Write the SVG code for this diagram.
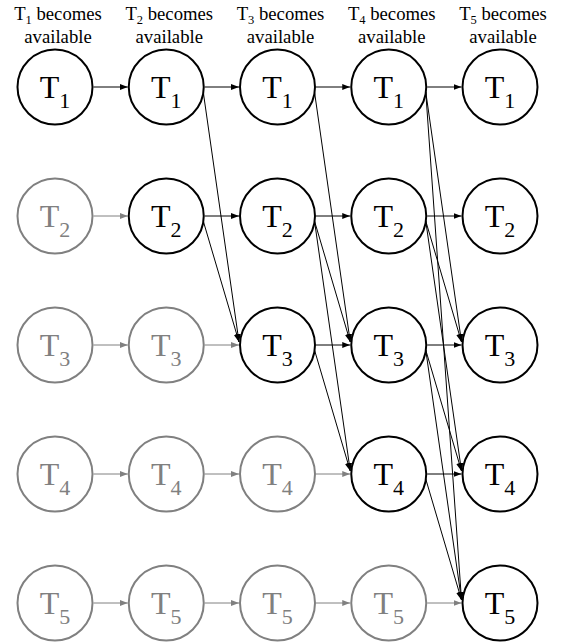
<svg xmlns="http://www.w3.org/2000/svg" width="567" height="642" viewBox="0 0 567 642">
<style>
.hdr{font-family:"Liberation Serif","Times New Roman",serif;font-size:18.7px;text-anchor:middle;fill:#000}
.lbl{font-family:"Liberation Serif","Times New Roman",serif;font-size:32px;text-anchor:middle}
.sub{font-size:22px}
.on circle{fill:#fff;stroke:#000;stroke-width:2}
.on text{fill:#000}
.off circle{fill:#fff;stroke:#808080;stroke-width:2}
.off text{fill:#808080}
.eb{stroke:#000;stroke-width:1;fill:none;marker-end:url(#ab)}
.eg{stroke:#808080;stroke-width:1;fill:none;marker-end:url(#ag)}
</style>
<defs>
<marker id="ab" markerUnits="userSpaceOnUse" markerWidth="8" markerHeight="6" refX="8" refY="3" orient="auto"><path d="M0,0 L8,3 L0,6 z" fill="#000"/></marker>
<marker id="ag" markerUnits="userSpaceOnUse" markerWidth="8" markerHeight="6" refX="8" refY="3" orient="auto"><path d="M0,0 L8,3 L0,6 z" fill="#808080"/></marker>
</defs>
<g id="headers" font-family="Liberation Serif, serif">
<text class="hdr" x="58" y="20">T<tspan font-size="12.5" dy="4">1</tspan><tspan dy="-4"> becomes</tspan></text>
<text class="hdr" x="58" y="43">available</text>
<text class="hdr" x="169.25" y="20">T<tspan font-size="12.5" dy="4">2</tspan><tspan dy="-4"> becomes</tspan></text>
<text class="hdr" x="169.25" y="43">available</text>
<text class="hdr" x="280.5" y="20">T<tspan font-size="12.5" dy="4">3</tspan><tspan dy="-4"> becomes</tspan></text>
<text class="hdr" x="280.5" y="43">available</text>
<text class="hdr" x="391.75" y="20">T<tspan font-size="12.5" dy="4">4</tspan><tspan dy="-4"> becomes</tspan></text>
<text class="hdr" x="391.75" y="43">available</text>
<text class="hdr" x="503" y="20">T<tspan font-size="12.5" dy="4">5</tspan><tspan dy="-4"> becomes</tspan></text>
<text class="hdr" x="503" y="43">available</text>
</g>
<g id="connectors">
<line class="eb" x1="93.5" y1="87" x2="127.75" y2="87"/>
<line class="eb" x1="204.75" y1="87" x2="239" y2="87"/>
<line class="eb" x1="316" y1="87" x2="350.25" y2="87"/>
<line class="eb" x1="427.25" y1="87" x2="461.5" y2="87"/>
<line class="eg" x1="93.5" y1="216" x2="127.75" y2="216"/>
<line class="eb" x1="204.75" y1="216" x2="239" y2="216"/>
<line class="eb" x1="316" y1="216" x2="350.25" y2="216"/>
<line class="eb" x1="427.25" y1="216" x2="461.5" y2="216"/>
<line class="eg" x1="93.5" y1="345" x2="127.75" y2="345"/>
<line class="eg" x1="204.75" y1="345" x2="239" y2="345"/>
<line class="eb" x1="316" y1="345" x2="350.25" y2="345"/>
<line class="eb" x1="427.25" y1="345" x2="461.5" y2="345"/>
<line class="eg" x1="93.5" y1="474" x2="127.75" y2="474"/>
<line class="eg" x1="204.75" y1="474" x2="239" y2="474"/>
<line class="eg" x1="316" y1="474" x2="350.25" y2="474"/>
<line class="eb" x1="427.25" y1="474" x2="461.5" y2="474"/>
<line class="eg" x1="93.5" y1="603" x2="127.75" y2="603"/>
<line class="eg" x1="204.75" y1="603" x2="239" y2="603"/>
<line class="eg" x1="316" y1="603" x2="350.25" y2="603"/>
<line class="eg" x1="427.25" y1="603" x2="461.5" y2="603"/>
<line class="eb" x1="203.25" y1="92" x2="239" y2="342"/>
<line class="eb" x1="203.25" y1="221" x2="239" y2="342"/>
<line class="eb" x1="314.5" y1="92" x2="350.25" y2="342"/>
<line class="eb" x1="314.5" y1="221" x2="350.25" y2="342"/>
<line class="eb" x1="314.5" y1="221" x2="350.25" y2="471"/>
<line class="eb" x1="314.5" y1="350" x2="350.25" y2="471"/>
<line class="eb" x1="425.75" y1="92" x2="461.5" y2="342"/>
<line class="eb" x1="425.75" y1="221" x2="461.5" y2="342"/>
<line class="eb" x1="425.75" y1="221" x2="461.5" y2="471"/>
<line class="eb" x1="425.75" y1="350" x2="461.5" y2="471"/>
<line class="eb" x1="425.75" y1="92" x2="461.5" y2="600"/>
<line class="eb" x1="425.75" y1="350" x2="461.5" y2="600"/>
<line class="eb" x1="425.75" y1="479" x2="461.5" y2="600"/>
</g>
<g id="c1r1" class="on"><circle cx="55" cy="87" r="37.5"/><text class="lbl" x="55" y="97.5">T<tspan class="sub" dy="10">1</tspan></text></g>
<g id="c1r2" class="off"><circle cx="55" cy="216" r="37.5"/><text class="lbl" x="55" y="226.5">T<tspan class="sub" dy="10">2</tspan></text></g>
<g id="c1r3" class="off"><circle cx="55" cy="345" r="37.5"/><text class="lbl" x="55" y="355.5">T<tspan class="sub" dy="10">3</tspan></text></g>
<g id="c1r4" class="off"><circle cx="55" cy="474" r="37.5"/><text class="lbl" x="55" y="484.5">T<tspan class="sub" dy="10">4</tspan></text></g>
<g id="c1r5" class="off"><circle cx="55" cy="603" r="37.5"/><text class="lbl" x="55" y="613.5">T<tspan class="sub" dy="10">5</tspan></text></g>
<g id="c2r1" class="on"><circle cx="166.25" cy="87" r="37.5"/><text class="lbl" x="166.25" y="97.5">T<tspan class="sub" dy="10">1</tspan></text></g>
<g id="c2r2" class="on"><circle cx="166.25" cy="216" r="37.5"/><text class="lbl" x="166.25" y="226.5">T<tspan class="sub" dy="10">2</tspan></text></g>
<g id="c2r3" class="off"><circle cx="166.25" cy="345" r="37.5"/><text class="lbl" x="166.25" y="355.5">T<tspan class="sub" dy="10">3</tspan></text></g>
<g id="c2r4" class="off"><circle cx="166.25" cy="474" r="37.5"/><text class="lbl" x="166.25" y="484.5">T<tspan class="sub" dy="10">4</tspan></text></g>
<g id="c2r5" class="off"><circle cx="166.25" cy="603" r="37.5"/><text class="lbl" x="166.25" y="613.5">T<tspan class="sub" dy="10">5</tspan></text></g>
<g id="c3r1" class="on"><circle cx="277.5" cy="87" r="37.5"/><text class="lbl" x="277.5" y="97.5">T<tspan class="sub" dy="10">1</tspan></text></g>
<g id="c3r2" class="on"><circle cx="277.5" cy="216" r="37.5"/><text class="lbl" x="277.5" y="226.5">T<tspan class="sub" dy="10">2</tspan></text></g>
<g id="c3r3" class="on"><circle cx="277.5" cy="345" r="37.5"/><text class="lbl" x="277.5" y="355.5">T<tspan class="sub" dy="10">3</tspan></text></g>
<g id="c3r4" class="off"><circle cx="277.5" cy="474" r="37.5"/><text class="lbl" x="277.5" y="484.5">T<tspan class="sub" dy="10">4</tspan></text></g>
<g id="c3r5" class="off"><circle cx="277.5" cy="603" r="37.5"/><text class="lbl" x="277.5" y="613.5">T<tspan class="sub" dy="10">5</tspan></text></g>
<g id="c4r1" class="on"><circle cx="388.75" cy="87" r="37.5"/><text class="lbl" x="388.75" y="97.5">T<tspan class="sub" dy="10">1</tspan></text></g>
<g id="c4r2" class="on"><circle cx="388.75" cy="216" r="37.5"/><text class="lbl" x="388.75" y="226.5">T<tspan class="sub" dy="10">2</tspan></text></g>
<g id="c4r3" class="on"><circle cx="388.75" cy="345" r="37.5"/><text class="lbl" x="388.75" y="355.5">T<tspan class="sub" dy="10">3</tspan></text></g>
<g id="c4r4" class="on"><circle cx="388.75" cy="474" r="37.5"/><text class="lbl" x="388.75" y="484.5">T<tspan class="sub" dy="10">4</tspan></text></g>
<g id="c4r5" class="off"><circle cx="388.75" cy="603" r="37.5"/><text class="lbl" x="388.75" y="613.5">T<tspan class="sub" dy="10">5</tspan></text></g>
<g id="c5r1" class="on"><circle cx="500" cy="87" r="37.5"/><text class="lbl" x="500" y="97.5">T<tspan class="sub" dy="10">1</tspan></text></g>
<g id="c5r2" class="on"><circle cx="500" cy="216" r="37.5"/><text class="lbl" x="500" y="226.5">T<tspan class="sub" dy="10">2</tspan></text></g>
<g id="c5r3" class="on"><circle cx="500" cy="345" r="37.5"/><text class="lbl" x="500" y="355.5">T<tspan class="sub" dy="10">3</tspan></text></g>
<g id="c5r4" class="on"><circle cx="500" cy="474" r="37.5"/><text class="lbl" x="500" y="484.5">T<tspan class="sub" dy="10">4</tspan></text></g>
<g id="c5r5" class="on"><circle cx="500" cy="603" r="37.5"/><text class="lbl" x="500" y="613.5">T<tspan class="sub" dy="10">5</tspan></text></g>
</svg>
